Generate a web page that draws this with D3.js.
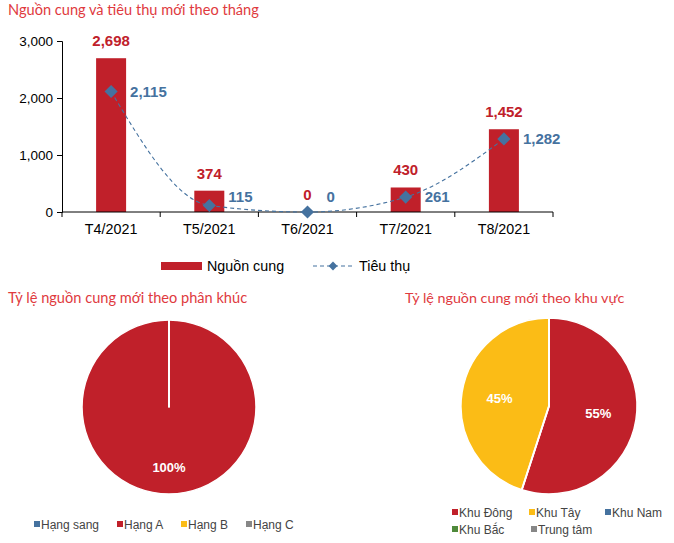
<!DOCTYPE html>
<html><head><meta charset="utf-8">
<script src="https://cdn.jsdelivr.net/npm/d3@7"></script>
<style>
body{margin:0;background:#fff;}
svg{display:block;}
</style></head>
<body>
<svg id="c" width="674" height="543"></svg>
<script>
// ---- data ----
const months = ["T4/2021","T5/2021","T6/2021","T7/2021","T8/2021"];
const supply = [2698, 374, 0, 430, 1452];
const consumption = [2115, 115, 0, 261, 1282];
const yTicks = [0, 1000, 2000, 3000];

const segmentNames = ["Hạng sang","Hạng A","Hạng B","Hạng C"];
const segmentShare = [0, 100, 0, 0];

const regionNames = ["Khu Đông","Khu Tây","Khu Nam","Khu Bắc","Trung tâm"];
const regionShare = [55, 45, 0, 0, 0];

const titles = ["Nguồn cung và tiêu thụ mới theo tháng","Tỷ lệ nguồn cung mới theo phân khúc","Tỷ lệ nguồn cung mới theo khu vực"];
const legendLabels = ["Nguồn cung","Tiêu thụ"];

// ---- style ----
const RED = "#c0202a", BLUE = "#45729f", YELLOW = "#fbbc16", GREY = "#878787", GREEN = "#4f8a3b";
const TITLE = "#e03a3e";
const segColors = [BLUE, RED, YELLOW, GREY];
const regColors = [RED, YELLOW, BLUE, GREEN, GREY];
const FONT = "'Liberation Sans', Arial, sans-serif";

const svg = d3.select("#c");
const fmt = d3.format(",");

// titles
svg.append("text").attr("x", 8).attr("y", 15).text(titles[0])
  .attr("fill", TITLE).attr("font-family", "Lato, sans-serif").attr("font-size", 14.6);
svg.append("text").attr("x", 8).attr("y", 303).text(titles[1])
  .attr("fill", TITLE).attr("font-family", "Lato, sans-serif").attr("font-size", 14.6);
svg.append("text").attr("x", 405).attr("y", 303).text(titles[2])
  .attr("fill", TITLE).attr("font-family", "Lato, sans-serif").attr("font-size", 14.3);

// ---- bar/line chart ----
const x = d3.scaleBand().domain(months).range([62, 553]).paddingInner(0).paddingOuter(0);
const y = d3.scaleLinear().domain([0, 3000]).range([212, 41]);
const barW = 30;

const gy = svg.append("g").attr("transform", "translate(62,0)")
  .call(d3.axisLeft(y).tickValues(yTicks).tickFormat(fmt).tickSizeOuter(0).tickSize(5).tickPadding(4));
gy.select(".domain").attr("stroke", "#000");
gy.selectAll("text").attr("font-family", FONT).attr("font-size", 13.5).attr("fill", "#000");

const gx = svg.append("g").attr("transform", "translate(0,212)")
  .call(d3.axisBottom(x).tickSize(0).tickPadding(12));
gx.select(".domain").remove();
gx.selectAll("text").attr("font-family", FONT).attr("font-size", 14.3).attr("fill", "#000");
// boundary ticks
const bounds = months.map(m => x(m)).concat([x.range()[1]]);
svg.append("g").selectAll("line").data(bounds).join("line")
  .attr("x1", d => d).attr("x2", d => d).attr("y1", 212).attr("y2", 217).attr("stroke", "#000");

// bars
svg.append("g").selectAll("rect").data(supply).join("rect")
  .attr("x", (d, i) => x(months[i]) + x.bandwidth() / 2 - barW / 2)
  .attr("width", barW)
  .attr("y", d => y(d)).attr("height", d => y(0) - y(d))
  .attr("fill", RED);
svg.append("line").attr("x1", 62).attr("x2", 553).attr("y1", 212).attr("y2", 212).attr("stroke", "#000");

// bar labels
svg.append("g").selectAll("text").data(supply).join("text")
  .attr("x", (d, i) => x(months[i]) + x.bandwidth() / 2)
  .attr("y", d => y(d) - 12)
  .attr("text-anchor", "middle")
  .attr("font-family", FONT).attr("font-weight", "bold").attr("font-size", 15)
  .attr("fill", RED).text(d => fmt(d));

// line
const cx = (d, i) => x(months[i]) + x.bandwidth() / 2;
const line = d3.line().x((d, i) => cx(d, i)).y(d => y(d)).curve(d3.curveMonotoneX);
svg.append("path").datum(consumption).attr("d", line)
  .attr("fill", "none").attr("stroke", BLUE).attr("stroke-width", 1.1).attr("stroke-dasharray", "4,3");
const diamond = d3.symbol().type(d3.symbolDiamond2).size(110);
svg.append("g").selectAll("path").data(consumption).join("path")
  .attr("d", diamond)
  .attr("transform", (d, i) => `translate(${cx(d, i)},${y(d)})`)
  .attr("fill", BLUE);
svg.append("g").selectAll("text").data(consumption).join("text")
  .attr("x", (d, i) => cx(d, i) + 19)
  .attr("y", d => Math.min(y(d), y(0) - 16) + 5.5)
  .attr("font-family", FONT).attr("font-weight", "bold").attr("font-size", 15)
  .attr("fill", BLUE).text(d => fmt(d));

// legend
const lg = svg.append("g");
lg.append("rect").attr("x", 161).attr("y", 262).attr("width", 41).attr("height", 8).attr("fill", RED);
lg.append("text").attr("x", 207).attr("y", 271).text(legendLabels[0])
  .attr("font-family", FONT).attr("font-size", 14.3).attr("fill", "#000");
lg.append("line").attr("x1", 313).attr("x2", 353).attr("y1", 266).attr("y2", 266)
  .attr("stroke", BLUE).attr("stroke-width", 1.1).attr("stroke-dasharray", "4,3");
lg.append("path").attr("d", d3.symbol().type(d3.symbolDiamond2).size(50)).attr("transform", "translate(333,266)").attr("fill", BLUE);
lg.append("text").attr("x", 359).attr("y", 271).text(legendLabels[1])
  .attr("font-family", FONT).attr("font-size", 14.3).attr("fill", "#000");

// ---- pies ----
function drawPie(cxp, cyp, r, values, colors, labelR) {
  const pie = d3.pie().sort(null).value(d => d);
  const arcs = pie(values);
  const arc = d3.arc().innerRadius(0).outerRadius(r);
  const g = svg.append("g").attr("transform", `translate(${cxp},${cyp})`);
  g.selectAll("path").data(arcs).join("path")
    .attr("d", arc).attr("fill", (d, i) => colors[i])
    .attr("stroke", "#fff").attr("stroke-width", 1.5).attr("stroke-linejoin", "round");
  const starts = arcs.filter(a => a.value > 0).map(a => a.startAngle);
  g.selectAll("line.sep").data(starts).join("line")
    .attr("x1", 0).attr("y1", 0)
    .attr("x2", a => Math.sin(a) * r).attr("y2", a => -Math.cos(a) * r)
    .attr("stroke", "#fff").attr("stroke-width", 2);
  const la = d3.arc().innerRadius(labelR).outerRadius(labelR);
  g.selectAll("text").data(arcs.filter(a => a.value > 0)).join("text")
    .attr("transform", d => `translate(${la.centroid(d)})`)
    .attr("text-anchor", "middle").attr("dy", "0.35em")
    .attr("font-family", FONT).attr("font-weight", "bold").attr("font-size", 13)
    .attr("fill", "#fff").text(d => d.value + "%");
}
drawPie(169, 407, 87, segmentShare, segColors, 60);
drawPie(549, 406, 88, regionShare, regColors, 50);

// pie legends
function legend(items, colors, positions) {
  const g = svg.append("g");
  items.forEach((name, i) => {
    const [px, py] = positions[i];
    g.append("rect").attr("x", px).attr("y", py - 3).attr("width", 6).attr("height", 6).attr("fill", colors[i]);
    g.append("text").attr("x", px + 7).attr("y", py + 4.5).text(name)
      .attr("font-family", FONT).attr("font-size", 12).attr("fill", "#444");
  });
}
legend(segmentNames, segColors, [[34, 524], [117, 524], [181, 524], [246, 524]]);
legend(regionNames, regColors, [[452, 512], [529, 512], [605, 512], [452, 529], [531, 529]]);
</script>
</body></html>
